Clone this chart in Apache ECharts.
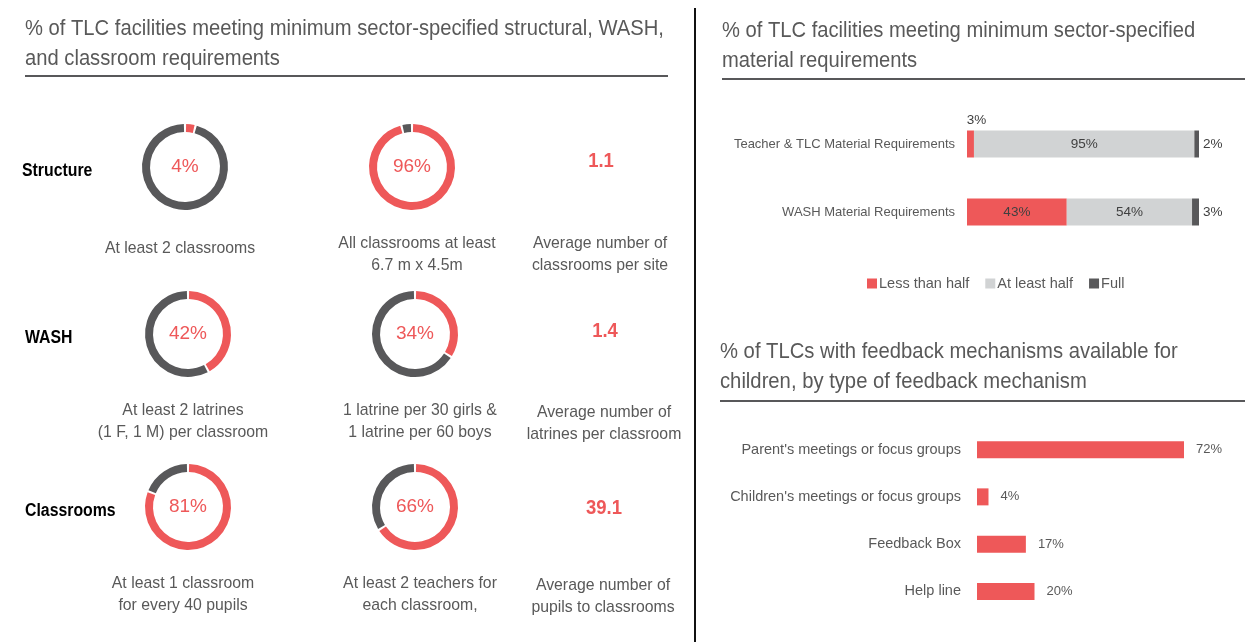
<!DOCTYPE html>
<html>
<head>
<meta charset="utf-8">
<script src="https://cdn.jsdelivr.net/npm/echarts@6/dist/echarts.min.js"></script>
<style>
  html, body { margin: 0; padding: 0; background: #fff; }
  #main { width: 1245px; height: 642px; }
</style>
</head>
<body>
<div id="main"></div>
<script>
// data
const rowLabels = ['Structure', 'WASH', 'Classrooms'];
const donutPercents = [[4, 96], [42, 34], [81, 66]];
const donutCaptions = [
  ['At least 2 classrooms', 'All classrooms at least\n6.7 m x 4.5m'],
  ['At least 2 latrines\n(1 F, 1 M) per classroom', '1 latrine per 30 girls &\n1 latrine per 60 boys'],
  ['At least 1 classroom\nfor every 40 pupils', 'At least 2 teachers for\neach classroom,']
];
const averageValues = [1.1, 1.4, 39.1];
const averageCaptions = [
  'Average number of\nclassrooms per site',
  'Average number of\nlatrines per classroom',
  'Average number of\npupils to classrooms'
];

const materialCategories = ['Teacher & TLC Material Requirements', 'WASH Material Requirements'];
const materialSeries = ['Less than half', 'At least half', 'Full'];
const lessThanHalf = [3, 43];
const atLeastHalf = [95, 54];
const full = [2, 3];

const feedbackCategories = [
  "Parent's meetings or focus groups",
  "Children's meetings or focus groups",
  'Feedback Box',
  'Help line'
];
const feedbackValues = [72, 4, 17, 20];

// colours and layout
const RED = '#EE5859', DARK = '#58585A', LIGHT = '#D1D3D4', TEXT = '#595959';
const FONT = '"Liberation Sans", Arial, sans-serif';
const rowY = [167, 334, 507];
const colX = [[185, 412], [188, 415], [188, 415]];
const captionY = [254, 421, 594];
const avgPos = [[601, 161], [605, 331], [604, 508]];
const avgCaptionY = [254, 423, 596];

const myChart = echarts.init(document.getElementById('main'));

// narrow-looking text: normal font squeezed horizontally
const graphics = [];
function txt(x, y, text, size, color, sx, extra) {
  graphics.push({
    type: 'text', x: x, y: y, scaleX: sx, silent: true,
    style: Object.assign({
      text: text, fontSize: size, fontFamily: FONT, fill: color,
      align: 'left', verticalAlign: 'middle', lineHeight: 22
    }, extra || {})
  });
}
function line(x1, y1, x2, y2, w, color) {
  graphics.push({ type: 'line', silent: true, shape: { x1, y1, x2, y2 }, style: { stroke: color, lineWidth: w } });
}

// titles + rules
txt(25, 14, '% of TLC facilities meeting minimum sector-specified structural, WASH,\nand classroom requirements', 22, TEXT, 0.918, { lineHeight: 30, verticalAlign: 'top' });
line(25, 76, 668, 76, 2, DARK);
txt(722, 16, '% of TLC facilities meeting minimum sector-specified\nmaterial requirements', 22, TEXT, 0.917, { lineHeight: 30, verticalAlign: 'top' });
line(722, 79, 1245, 79, 2, DARK);
txt(720, 337, '% of TLCs with feedback mechanisms available for\nchildren, by type of feedback mechanism', 22, TEXT, 0.92, { lineHeight: 30, verticalAlign: 'top' });
line(720, 401, 1245, 401, 2, DARK);
line(695, 8, 695, 642, 2, '#111');

// left panel: donuts, captions, averages
const pieSeries = [];
rowLabels.forEach(function (lab, r) {
  txt(r === 0 ? 22 : 25, rowY[r] + 4, lab, 18, '#000', 0.88, { fontWeight: 'bold' });
  donutPercents[r].forEach(function (v, c) {
    const cap = donutCaptions[r][c];
    const oneLine = cap.indexOf('\n') < 0;
    txt(colX[r][c] + (c === 0 ? -5 : 5), oneLine ? captionY[r] - 6 : captionY[r], cap, 17, TEXT, 0.93, { align: 'center' });
    pieSeries.push({
      type: 'pie',
      center: [colX[r][c], rowY[r]],
      radius: [35, 43],
      startAngle: 90,
      clockwise: true,
      padAngle: 3,
      silent: true,
      label: { show: false },
      labelLine: { show: false },
      emphasis: { disabled: true },
      data: [
        { value: v, itemStyle: { color: RED },
          label: { show: true, position: 'center', formatter: '{c}%', fontSize: 19, fontFamily: FONT, color: RED } },
        { value: 100 - v, itemStyle: { color: DARK } }
      ]
    });
  });
  txt(avgPos[r][0], avgPos[r][1], String(averageValues[r]), 21, RED, 0.88, { align: 'center', fontWeight: 'bold' });
  txt(avgPos[r][0] - 1, avgCaptionY[r], averageCaptions[r], 17, TEXT, 0.93, { align: 'center' });
});

// stacked material bars
const materialData = [lessThanHalf, atLeastHalf, full];
const materialColors = [RED, LIGHT, DARK];
const barSeries = materialData.map(function (arr, i) {
  return {
    name: materialSeries[i],
    type: 'bar',
    stack: 'm',
    xAxisIndex: 0, yAxisIndex: 0,
    barWidth: 27,
    silent: true,
    itemStyle: { color: materialColors[i] },
    data: arr.map(function (v) {
      let label;
      if (i === 2) label = { show: true, position: 'right', distance: 4 };
      else if (v < 10) label = { show: true, position: 'top', offset: [6, 0], distance: 3 };
      else label = { show: true, position: 'inside' };
      return { value: v, label: label };
    }),
    label: { formatter: '{c}%', fontSize: 13.5, fontFamily: FONT, color: '#404040' }
  };
});

// feedback bars
barSeries.push({
  type: 'bar',
  xAxisIndex: 1, yAxisIndex: 1,
  barWidth: 17,
  silent: true,
  itemStyle: { color: RED },
  data: feedbackValues,
  label: { show: true, position: 'right', distance: 12, formatter: '{c}%', fontSize: 13, fontFamily: FONT, color: TEXT }
});

const option = {
  animation: false,
  graphic: graphics,
  legend: {
    data: materialSeries,
    left: 862, top: 271,
    itemWidth: 10, itemHeight: 10, itemGap: 16,
    icon: 'rect',
    textStyle: { fontSize: 14.5, fontFamily: FONT, color: TEXT, padding: [0, 0, 0, -3] }
  },
  grid: [
    { left: 967, width: 232, top: 110, height: 136 },
    { left: 977, width: 230, top: 426, height: 189 }
  ],
  xAxis: [
    { gridIndex: 0, type: 'value', min: 0, max: 100, show: false },
    { gridIndex: 1, type: 'value', min: 0, max: 80, show: false }
  ],
  yAxis: [
    { gridIndex: 0, type: 'category', inverse: true, data: materialCategories,
      axisLine: { show: false }, axisTick: { show: false },
      axisLabel: { margin: 12, fontSize: 13, fontFamily: FONT, color: TEXT } },
    { gridIndex: 1, type: 'category', inverse: true, data: feedbackCategories,
      axisLine: { show: false }, axisTick: { show: false },
      axisLabel: { margin: 16, fontSize: 14.5, fontFamily: FONT, color: TEXT } }
  ],
  series: pieSeries.concat(barSeries)
};
myChart.setOption(option);
</script>
</body>
</html>
